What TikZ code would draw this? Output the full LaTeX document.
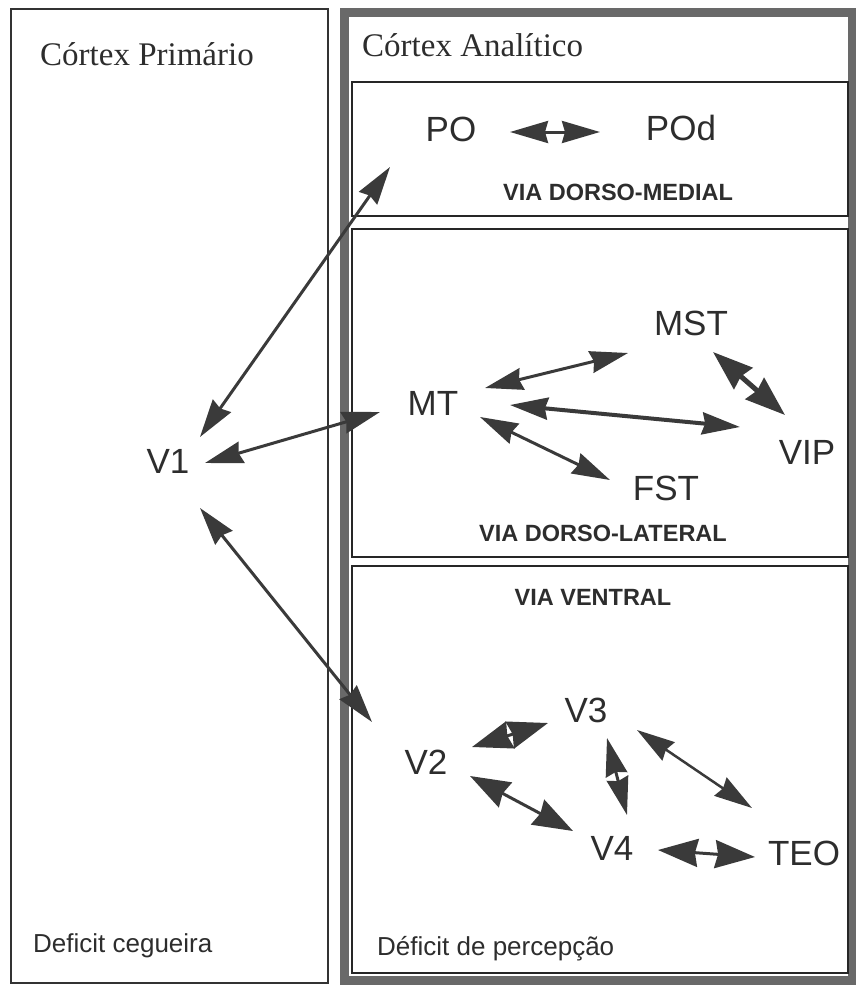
\documentclass[tikz,border=0pt]{standalone}
\usepackage{fontspec}
\setmainfont{Liberation Serif}
\setsansfont{Liberation Sans}
\usepackage{tikz}
\usetikzlibrary{arrows.meta}
\definecolor{ink}{RGB}{45,45,45}
\definecolor{frame}{RGB}{105,105,105}
\definecolor{arrowgray}{RGB}{58,58,58}

\tikzset{
  area/.style={font=\sffamily\fontsize{35}{40}\selectfont,text=ink,inner sep=0pt},
  title/.style={font=\rmfamily\fontsize{33}{38}\selectfont,text=ink,inner sep=0pt,anchor=base west},
  note/.style={font=\sffamily\fontsize{26}{30}\selectfont,text=ink,inner sep=0pt,anchor=base west},
  via/.style={font=\sffamily\bfseries\fontsize{23.5}{28}\selectfont,text=ink,inner sep=0pt},
  link/.style={arrowgray,line width=3pt,
    {Stealth[length=38pt,width=22pt,inset=3pt]}-{Stealth[length=38pt,width=22pt,inset=3pt]}},
  heavylink/.style={arrowgray,line width=5pt,
    {Stealth[length=40pt,width=28pt,inset=3pt]}-{Stealth[length=40pt,width=28pt,inset=3pt]}}
}

\begin{document}
\begin{tikzpicture}[x=1pt,y=-1pt]

    \useasboundingbox (0,0) rectangle (856,985);

    % Boxes
    \draw[black!80,line width=1.5pt] (11,9) rectangle (328,983);
    \draw[frame,line width=9pt] (344,12) rectangle (852,980);
    \draw[frame,line width=5pt] (342,12) -- (342,980);
    \draw[black!85,line width=2pt] (352,82) rectangle (848,216);
    \draw[black!85,line width=2pt] (352,229) rectangle (848,557);
    \draw[black!85,line width=2pt] (352,566) rectangle (848,973);

    % Titles and notes
    \node[title] (prim) at (40,65) {Córtex Primário};
    \node[title] (anal) at (362,56) {Córtex Analítico};
    \node[note] (cego) at (33,952) {Deficit cegueira};
    \node[note] (perc) at (377,955) {Déficit de percepção};

    % Pathway labels
    \node[via] (medial) at (618,192) {VIA DORSO-MEDIAL};
    \node[via] (lateral) at (603,533) {VIA DORSO-LATERAL};
    \node[via] (ventral) at (593,597) {VIA VENTRAL};

    % Areas
    \node[area] (V1) at (168,461) {V1};
    \node[area] (PO) at (451,129) {PO};
    \node[area] (POd) at (681,128) {POd};
    \node[area] (MST) at (691,323) {MST};
    \node[area] (MT) at (433,403) {MT};
    \node[area] (VIP) at (807,452) {VIP};
    \node[area] (FST) at (666,488) {FST};
    \node[area] (V3) at (586,710) {V3};
    \node[area] (V2) at (426,762) {V2};
    \node[area] (V4) at (612,848) {V4};
    \node[area] (TEO) at (804,853) {TEO};

    % Connections from V1
    \draw[link] ([shift={(32,-24)}]V1.center) -- ([shift={(-61,38)}]PO.center);
    \draw[link] ([shift={(37,2)}]V1.center) -- ([shift={(-53,9)}]MT.center);
    \draw[link] ([shift={(32,47)}]V1.center) -- ([shift={(-54,-40)}]V2.center);

    % Dorsal pathways
    \draw[link] ([shift={(59,3)}]PO.center) -- ([shift={(-81,4)}]POd.center);
    \draw[link] ([shift={(52,-15)}]MT.center) -- ([shift={(-63,30)}]MST.center);
    \draw[link,line width=4pt] ([shift={(77,2)}]MT.center) -- ([shift={(-67,-25)}]VIP.center);
    \draw[link] ([shift={(47,14)}]MT.center) -- ([shift={(-56,-8)}]FST.center);
    \draw[heavylink] ([shift={(22,29)}]MST.center) -- ([shift={(-22,-37)}]VIP.center);

    % Ventral pathway
    \draw[heavylink,line width=3pt] ([shift={(46,-15)}]V2.center) -- ([shift={(-38,13)}]V3.center);
    \draw[heavylink,line width=3pt] ([shift={(44,14)}]V2.center) -- ([shift={(-39,-17)}]V4.center);
    \draw[link] ([shift={(21,28)}]V3.center) -- ([shift={(15,-33)}]V4.center);
    \draw[link,line width=2.5pt] ([shift={(51,20)}]V3.center) -- ([shift={(-52,-45)}]TEO.center);
    \draw[heavylink,line width=3pt] ([shift={(46,2)}]V4.center) -- ([shift={(-49,4)}]TEO.center);

\end{tikzpicture}
\end{document}
